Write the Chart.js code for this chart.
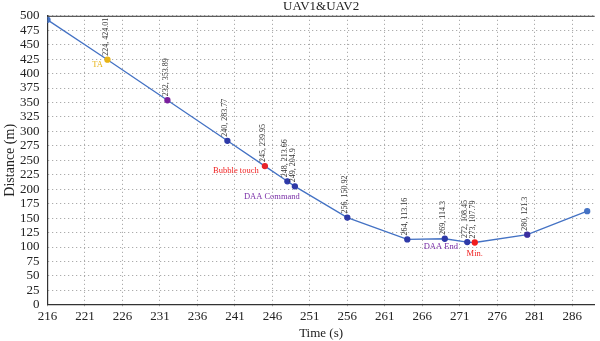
<!DOCTYPE html>
<html>
<head>
<meta charset="utf-8">
<script src="https://cdn.jsdelivr.net/npm/chart.js@4/dist/chart.umd.min.js"></script>
<style>
  html, body { margin: 0; padding: 0; background: #fff; }
  #wrap { width: 600px; height: 341px; }
</style>
</head>
<body>
<div id="wrap"><canvas id="distChart"></canvas></div>
<script>
// time (s) and separation distance (m) between UAV1 and UAV2
var times = [216, 224, 232, 240, 245, 248, 249, 256, 264, 269, 272, 273, 280, 288];
var distances = [493, 424.01, 353.89, 283.77, 239.95, 213.66, 204.9, 150.92, 113.16, 114.3, 108.45, 107.79, 121.3, 162];
// which points get a "t, d" label (the end points don't)
var labelled = [false, true, true, true, true, true, true, true, true, true, true, true, true, false];
var pointColors = ['#4472C4', '#E8B417', '#7A1F9E', '#2E3AA8', '#E8242B', '#2E3AA8', '#2E3AA8',
                   '#2E3AA8', '#2E3AA8', '#2E3AA8', '#2E3AA8', '#F01D1D', '#3B2EA0', '#4472C4'];
var xTicks = [216, 221, 226, 231, 236, 241, 246, 251, 256, 261, 266, 271, 276, 281, 286];
var chartTitle = 'UAV1&UAV2';
var yTitle = 'Distance (m)';

// event notes: anchored to a point index, offset in px
var notes = [
    { text: 'TA', at: 1, dx: -10, dy: 5, color: '#E8B417' },
    { text: 'Bubble touch', at: 4, dx: -29, dy: 5, color: '#F01D1D' },
    { text: 'DAA Command', at: 6, dx: -23, dy: 10, color: '#7A2FA8' },
    { text: 'DAA End', at: 9, dx: -4, dy: 8, color: '#7A2FA8' },
    { text: 'Min.', at: 11, dx: 0, dy: 11, color: '#F01D1D' }
];

var pts = times.map(function (t, i) { return { x: t, y: distances[i] }; });
var serif = '"Liberation Serif", "DejaVu Serif", serif';

var labelPlugin = {
    id: 'pointNotes',
    beforeDatasetsDraw: function (chart) {
        var a = chart.chartArea, c = chart.ctx;
        c.save();
        // top edge of the frame
        c.strokeStyle = '#333';
        c.lineWidth = 1;
        c.beginPath();
        c.moveTo(a.left, a.top + 0.5);
        c.lineTo(a.right, a.top + 0.5);
        c.stroke();
        // title, centred over the plot area
        c.fillStyle = '#222';
        c.font = '13px ' + serif;
        c.textAlign = 'center';
        c.textBaseline = 'middle';
        c.fillText(chartTitle, (a.left + a.right) / 2, 7);
        // y axis title, drawn by hand so it sits close to the tick labels
        c.font = '14px ' + serif;
        c.translate(10, (a.top + a.bottom) / 2);
        c.rotate(-Math.PI / 2);
        c.fillText(yTitle, 0, 0);
        c.restore();
    },
    afterDatasetsDraw: function (chart) {
        var c = chart.ctx;
        var xs = chart.scales.x, ys = chart.scales.y;
        c.save();
        c.font = '8px ' + serif;
        c.fillStyle = '#333';
        for (var i = 0; i < times.length; i++) {
            if (!labelled[i]) continue;
            var px = xs.getPixelForValue(times[i]);
            var py = ys.getPixelForValue(distances[i]);
            c.save();
            c.translate(px - 2, py - 4);
            c.rotate(-Math.PI / 2);
            c.textAlign = 'left';
            c.textBaseline = 'middle';
            c.fillText(times[i] + ', ' + distances[i], 0, 0);
            c.restore();
        }
        c.font = '8.5px ' + serif;
        c.textAlign = 'center';
        c.textBaseline = 'middle';
        notes.forEach(function (n) {
            var px = xs.getPixelForValue(times[n.at]);
            var py = ys.getPixelForValue(distances[n.at]);
            c.fillStyle = n.color;
            c.fillText(n.text, px + n.dx, py + n.dy);
        });
        c.restore();
    }
};

var ctx = document.getElementById('distChart').getContext('2d');
var chart = new Chart(ctx, {
    type: 'line',
    data: {
        datasets: [{
            data: pts,
            borderColor: '#4472C4',
            borderWidth: 1.3,
            pointRadius: 2.5,
            pointBackgroundColor: pointColors,
            pointBorderColor: pointColors,
            fill: false,
            tension: 0
        }]
    },
    options: {
        responsive: true,
        maintainAspectRatio: false,
        animation: false,
        layout: { padding: { top: 15, right: 0, left: 12, bottom: 0 } },
        plugins: {
            legend: { display: false },
            tooltip: { enabled: false },
            title: { display: false }
        },
        scales: {
            x: {
                type: 'linear',
                min: 216,
                max: 289,
                afterBuildTicks: function (axis) {
                    axis.ticks = xTicks.map(function (v) { return { value: v }; });
                },
                ticks: {
                    color: '#222',
                    font: { family: serif, size: 13 },
                    padding: 1,
                    maxRotation: 0,
                    autoSkip: false
                },
                grid: {
                    color: '#999',
                    tickBorderDash: [1, 2],
                    tickLength: 3
                },
                // dash applies to the grid lines; the axis line stays solid
                border: { color: '#333', width: 1.2, dash: [1, 3] },
                title: {
                    display: true,
                    text: 'Time (s)',
                    color: '#222',
                    font: { family: serif, size: 13 },
                    padding: { top: 0, bottom: 0 }
                }
            },
            y: {
                min: 0,
                max: 500,
                ticks: {
                    stepSize: 25,
                    autoSkip: false,
                    color: '#222',
                    font: { family: serif, size: 13 },
                    padding: 8
                },
                grid: {
                    color: '#999',
                    drawTicks: false
                },
                border: { color: '#333', width: 1.2, dash: [1, 3] }
            }
        }
    },
    plugins: [labelPlugin]
});
</script>
</body>
</html>
